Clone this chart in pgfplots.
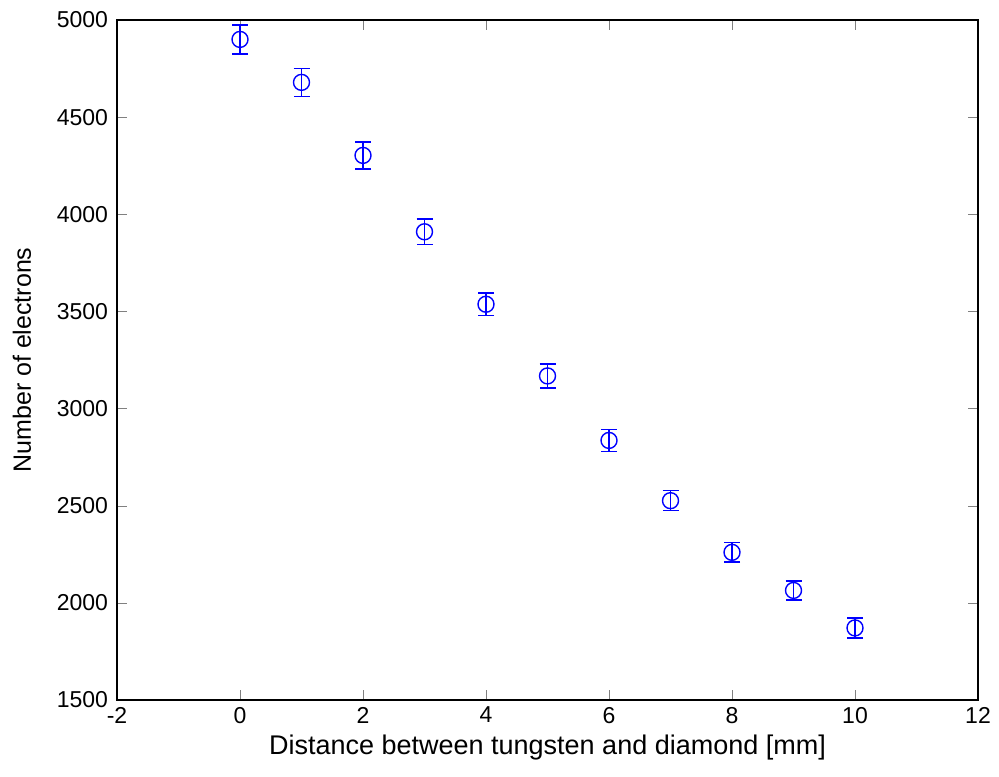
\documentclass[border=0pt]{standalone}
\usepackage{pgfplots}
\pgfplotsset{compat=1.18}
\usepackage{fontspec}
\setmainfont{Liberation Sans}
\begin{document}
\begin{tikzpicture}[x=1pt,y=1pt]
\useasboundingbox (0,0) rectangle (499.5,388);
\begin{axis}[
  at={(58.5pt,38pt)}, anchor=south west,
  width=430.5pt, height=340pt, scale only axis,
  xmin=-2, xmax=12, ymin=1500, ymax=5000,
  xtick={-2,0,...,12}, ytick={1500,2000,...,5000},
  tick align=inside, major tick length=5pt,
  xtick pos=both, ytick pos=both,
  /pgf/number format/assume math mode=true,
  scaled y ticks=false,
  yticklabel style={/pgf/number format/1000 sep={}, xshift=-1pt},
  tick label style={font=\fontsize{11.5}{13}\selectfont},
  label style={font=\fontsize{12.5}{14}\selectfont},
  xlabel={Distance between tungsten and diamond [mm]},
  ylabel={Number of electrons},
  xlabel style={font=\fontsize{13.5}{15}\selectfont, yshift=1pt},
  ylabel style={yshift=6pt},
  axis line style={black, line width=0.6pt},
  clip=false,
]
\addplot[blue, only marks, mark=o, mark size=4pt, mark options={line width=0.7pt},
  error bars/.cd, y dir=both, y explicit,
  error bar style={line width=0.7pt}, error mark options={rotate=90, mark size=4pt, line width=0.7pt}]
coordinates {
(0,4900) +- (0,75)
(1,4679) +- (0,72)
(2,4303) +- (0,69)
(3,3910) +- (0,66)
(4,3537) +- (0,58)
(5,3168) +- (0,62)
(6,2836) +- (0,56)
(7,2526) +- (0,51)
(8,2260) +- (0,50)
(9,2064) +- (0,49)
(10,1871) +- (0,51)
};
\end{axis}
\end{tikzpicture}
\end{document}
